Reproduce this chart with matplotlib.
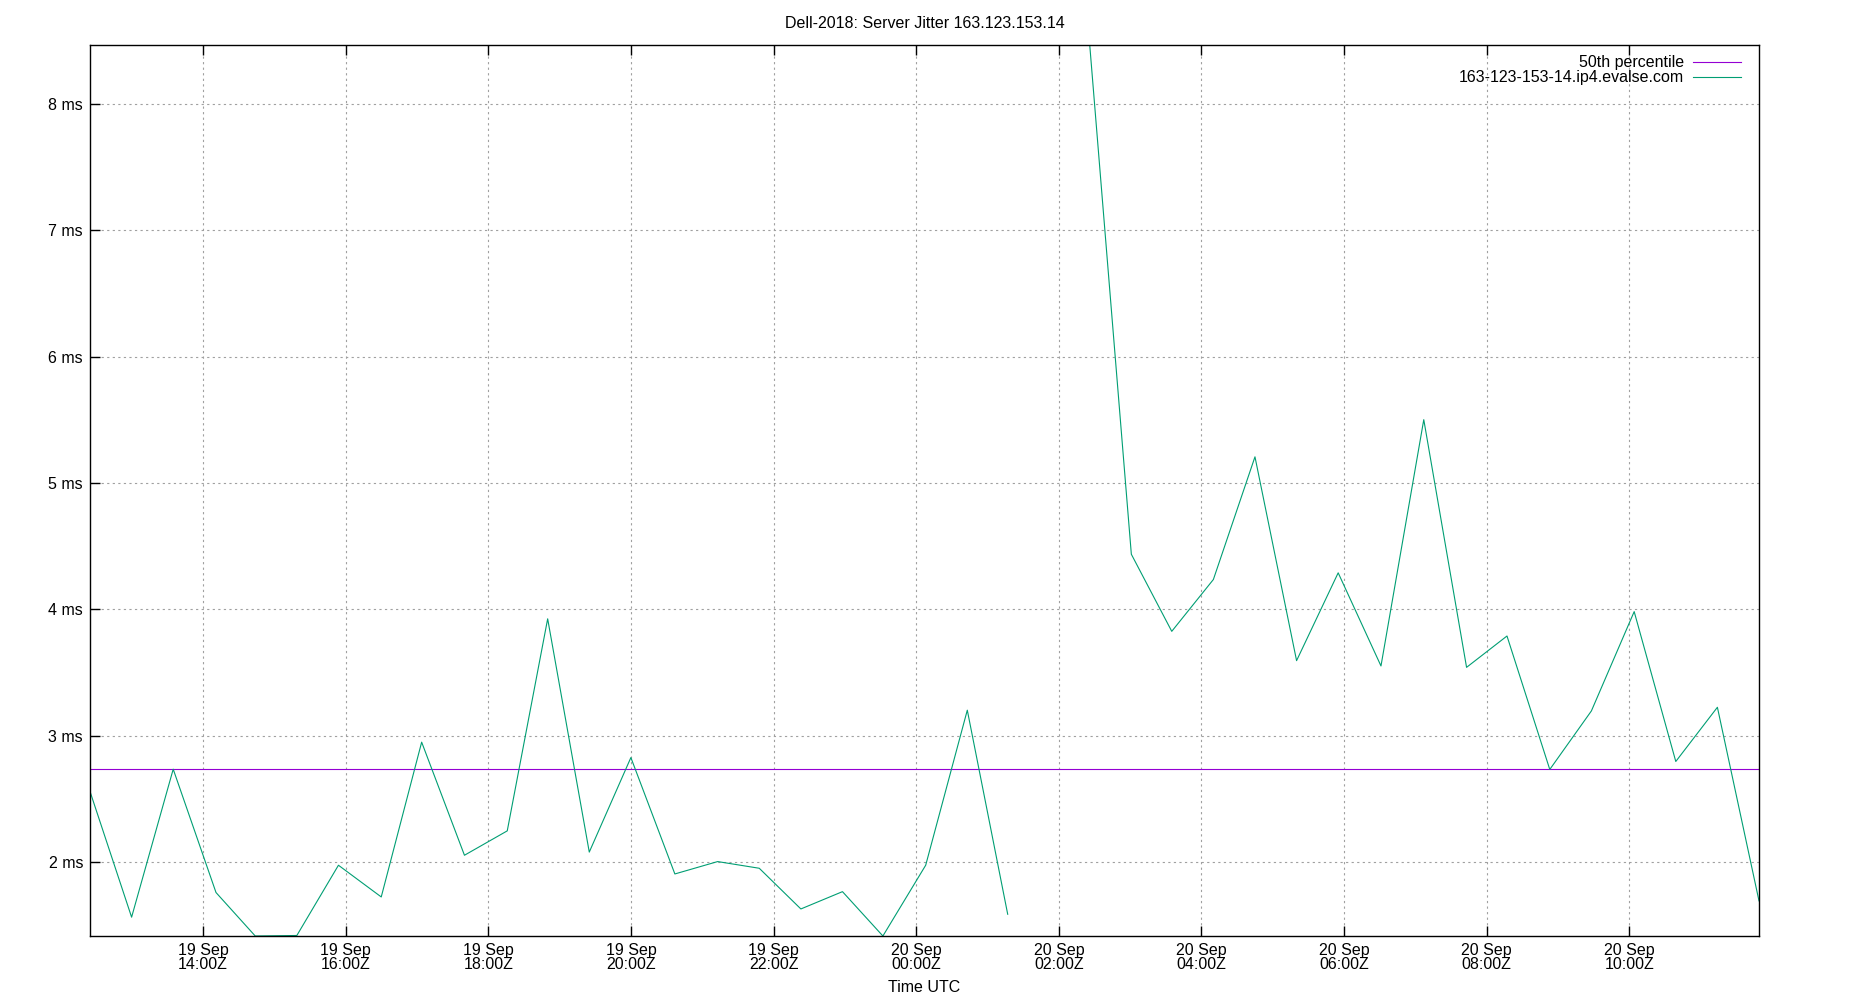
import numpy as np
import matplotlib
matplotlib.use('Agg')
import matplotlib.pyplot as plt
import matplotlib.dates as mdates
from matplotlib.ticker import FuncFormatter
from datetime import datetime

TITLE = 'Dell-2018: Server Jitter 163.123.153.14'
HOST = '163-123-153-14.ip4.evalse.com'

# sample times (UTC) and jitter in ms
TIMES = ['2018-09-19 12:25', '2018-09-19 13:00', '2018-09-19 13:35', '2018-09-19 14:11',
         '2018-09-19 14:44', '2018-09-19 15:19', '2018-09-19 15:54', '2018-09-19 16:30',
         '2018-09-19 17:04', '2018-09-19 17:40', '2018-09-19 18:16', '2018-09-19 18:50',
         '2018-09-19 19:25', '2018-09-19 20:00', '2018-09-19 20:37', '2018-09-19 21:13',
         '2018-09-19 21:48', '2018-09-19 22:23', '2018-09-19 22:58', '2018-09-19 23:32',
         '2018-09-20 00:08', '2018-09-20 00:43', '2018-09-20 01:17', '2018-09-20 01:51',
         '2018-09-20 02:26', '2018-09-20 03:01', '2018-09-20 03:35', '2018-09-20 04:10',
         '2018-09-20 04:45', '2018-09-20 05:20', '2018-09-20 05:55', '2018-09-20 06:31',
         '2018-09-20 07:07', '2018-09-20 07:43', '2018-09-20 08:17', '2018-09-20 08:53',
         '2018-09-20 09:28', '2018-09-20 10:04', '2018-09-20 10:39', '2018-09-20 11:14',
         '2018-09-20 11:49']
JITTER = [2.56, 1.565, 2.736, 1.76,
          1.416, 1.42, 1.976, 1.725,
          2.95, 2.055, 2.248, 3.926,
          2.08, 2.828, 1.907, 2.005,
          1.952, 1.63, 1.767, 1.416,
          1.976, 3.203, 1.588, np.nan,
          8.467, 4.437, 3.827, 4.237,
          5.208, 3.595, 4.29, 3.553,
          5.502, 3.542, 3.79, 2.734,
          3.197, 3.983, 2.797, 3.226,
          1.694]
MEDIAN = 2.736


def main():
    plt.rcParams['font.family'] = ['Liberation Sans', 'DejaVu Sans']
    plt.rcParams['font.size'] = 11.5

    t = [datetime.strptime(s, '%Y-%m-%d %H:%M') for s in TIMES]
    y = np.array(JITTER, dtype=float)

    fig = plt.figure(figsize=(18.5, 10), dpi=100)
    ax = fig.add_axes([90 / 1850, 64 / 1000, 1669 / 1850, 891 / 1000])

    ax.plot([t[0], t[-1]], [MEDIAN, MEDIAN], color='#9400d3', lw=0.8, label='50th percentile')
    ax.plot(t, y, color='#009e73', lw=0.8, label=HOST)

    ax.set_xlim(t[0], t[-1])
    ax.set_ylim(np.nanmin(y), np.nanmax(y))

    ax.xaxis.set_major_locator(mdates.HourLocator(byhour=range(0, 24, 2)))
    ax.xaxis.set_major_formatter(mdates.DateFormatter('%d %b\n%H:%MZ'))
    ax.set_yticks([2, 3, 4, 5, 6, 7, 8])
    ax.yaxis.set_major_formatter(FuncFormatter(lambda v, p: '{:g} ms'.format(v)))

    ax.tick_params(direction='in', length=7.5, width=1, top=True, right=False, pad=5)
    ax.tick_params(axis='x', pad=5)
    for lbl in ax.get_xticklabels():
        lbl.set_linespacing(0.9)
    for s in ax.spines.values():
        s.set_linewidth(1.0)

    ax.grid(True, color='#a0a0a0', linestyle=(0, (2, 3)), lw=0.8)
    ax.set_axisbelow(True)

    ax.set_title(TITLE, fontsize=11.5, pad=12)
    ax.set_xlabel('Time UTC', labelpad=6)

    ax.legend(loc='upper right', bbox_to_anchor=(0.997, 1.003), frameon=False, markerfirst=False,
              handlelength=3.0, handletextpad=0.6, labelspacing=0.0, borderaxespad=0.4,
              fontsize=11.5)

    fig.savefig('out.png')


if __name__ == '__main__':
    main()
